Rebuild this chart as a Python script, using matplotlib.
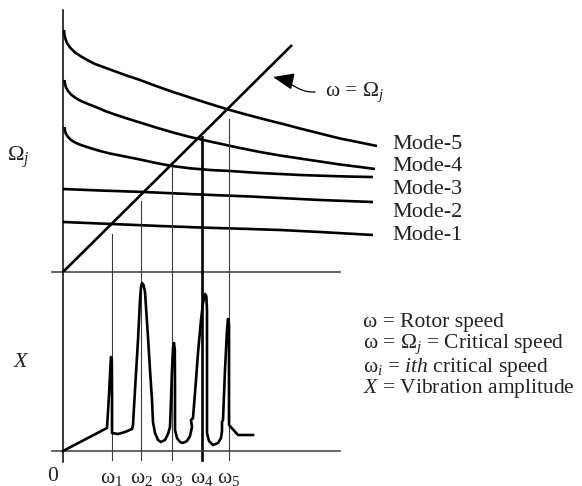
import matplotlib
matplotlib.use("Agg")
import matplotlib.pyplot as plt
from matplotlib.patches import FancyArrowPatch
from matplotlib.path import Path

plt.rcParams['font.family'] = ['Liberation Serif', 'DejaVu Serif']
plt.rcParams['mathtext.fontset'] = 'custom'
plt.rcParams['mathtext.rm'] = 'Liberation Serif'
plt.rcParams['mathtext.it'] = 'Liberation Serif:italic'

# ---------------- data (arbitrary units: omega, Omega_j, X) ----------------
diag_w = [0, 229]
diag_W = [0, 227]

mode5_w = [1, 1.5, 2.5, 4, 7, 12, 19, 27, 32, 47, 62, 77, 93, 110, 127, 144, 165,
           185, 204, 222, 237, 257, 277, 297, 314]
mode5_W = [242, 237, 233, 229, 224.5, 219.5, 215, 210.5, 208, 202.5, 197, 192, 186,
           180, 174.5, 169, 162.5, 157, 152, 147.5, 143.5, 138.5, 133.5, 129.5, 126]
mode4_w = [1.5, 2, 3, 5, 8, 12, 17, 25, 34, 42, 52, 64, 77, 93, 110, 127, 147, 177,
           197, 217, 237, 257, 277, 297, 312]
mode4_W = [192, 188, 184.5, 181, 177.5, 174.5, 171.5, 168, 164.5, 161, 157.5, 153.5,
           149.5, 144.5, 139.5, 135, 130.5, 124, 120, 116.5, 113.5, 110.5, 107.5, 105, 103]
mode3_w = [1.5, 2, 3, 5, 8, 12, 18, 27, 37, 47, 62, 77, 93, 109, 127, 147, 167, 192,
           217, 237, 267, 292, 310]
mode3_W = [145, 141, 138, 135, 132, 129.5, 127, 124, 121, 118.5, 115.5, 112.5, 109,
           106, 103.7, 102, 101, 99.3, 98, 97, 96, 95.3, 95]
mode2_w = [0, 37, 81, 137, 187, 217, 257, 310]
mode2_W = [83, 81.5, 80, 77.5, 75.5, 74, 72, 70]
mode1_w = [0, 49, 97, 137, 187, 217, 257, 310]
mode1_W = [50, 48, 46, 44.5, 43, 42, 40, 37]

mode_labels = ['Mode-5', 'Mode-4', 'Mode-3', 'Mode-2', 'Mode-1']
mode_label_W = [128, 106, 83, 60, 37]

crit_w = [49, 78, 109, 139, 166]
crit_top = [38, 71, 106, 135, 153]
crit_labels = ['ω$_1$', 'ω$_2$', 'ω$_3$', 'ω$_4$', 'ω$_5$']

resp_w = [0, 44, 46, 47.5, 48, 48.8, 49, 49, 55, 62, 69, 70, 72, 75, 77, 78, 79,
          80.5, 82, 85, 87, 89, 90, 92, 95, 98, 102, 105, 107, 108, 109, 110, 111,
          111.8, 112, 112, 112, 114, 117, 120, 124, 127, 129, 128, 130, 133, 135,
          138, 140, 142, 143.3, 144, 144, 144, 146, 150, 155, 158, 159, 159, 160,
          162, 164, 165, 166, 166, 166, 175, 190]
resp_X = [0, 23, 56, 86, 94, 89, 56, 18, 17, 19, 22, 26, 61, 111, 151, 164, 168,
          166, 159, 114, 81, 51, 29, 18, 11, 9, 11, 17, 24, 51, 81, 103, 108,
          101, 61, 26, 21, 13, 9, 8, 10, 15, 24, 31, 33, 71, 98,
          131, 148, 157, 155, 141, 81, 18, 10, 6, 8, 13, 20, 29, 31,
          81, 121, 132, 126, 71, 26, 16, 16]

legend_lines = ['ω = Rotor speed',
                'ω = Ω$_j$ = Critical speed',
                'ω$_i$ = $ith$ critical speed',
                '$X$ = Vibration amplitude']
legend_X = [129, 107, 84, 63]

# ---------------- figure ----------------
fig = plt.figure(figsize=(5.82, 4.86), dpi=100)
W, H = 582.0, 486.0
ax_top = fig.add_axes([0, (H - 272) / H, 1, 272 / H])
ax_bot = fig.add_axes([0, 0, 1, 214 / H])
for a in (ax_top, ax_bot):
    a.set_xlim(-63, 519)
    a.axis('off')
ax_top.set_ylim(0, 272)
ax_bot.set_ylim(-35, 179)

lw_c = 1.9
k = 'black'
tc = '#222222'
grey = '#3a3a3a'

# top panel
ax_top.plot([0, 0], [262, 0], color=k, lw=1.1, clip_on=False)
ax_top.plot([-11, 277], [0, 0], color=grey, lw=1.1, clip_on=False)
ax_top.plot(diag_w, diag_W, color=k, lw=lw_c, solid_capstyle='butt')
for mw, mW in [(mode5_w, mode5_W), (mode4_w, mode4_W), (mode3_w, mode3_W),
               (mode2_w, mode2_W), (mode1_w, mode1_W)]:
    ax_top.plot(mw, mW, color=k, lw=lw_c, solid_capstyle='butt',
                solid_joinstyle='round')
for i, (w, t) in enumerate(zip(crit_w, crit_top)):
    thick = (i == 3)
    ax_top.plot([w, w], [t, 0], color=k if thick else grey,
                lw=1.9 if thick else 0.8, clip_on=False)
    ax_bot.plot([w, w], [179, -9], color=k if thick else grey,
                lw=1.9 if thick else 0.8, clip_on=False)
for lab, y in zip(mode_labels, mode_label_W):
    ax_top.text(329, y, lab, fontsize=16, ha='left', va='center', color=tc)
ax_top.text(-56, 115, 'Ω$_j$', fontsize=16, ha='left', va='center', color=tc)

ax_top.text(262, 180, 'ω = Ω$_j$', fontsize=15.5, ha='left', va='center', color=tc)
arrow_path = Path([(252, 180), (235, 179), (228, 191), (210, 195)],
                  [Path.MOVETO, Path.CURVE4, Path.CURVE4, Path.CURVE4])
ax_top.add_patch(FancyArrowPatch(path=arrow_path,
                                 arrowstyle='-|>,head_length=1.0,head_width=0.4',
                                 mutation_scale=13, color=k, lw=0.9))

# bottom panel
ax_bot.plot([0, 0], [179, -11], color=k, lw=1.1, clip_on=False)
ax_bot.plot([-11, 277], [0, 0], color=grey, lw=1.1, clip_on=False)
ax_bot.plot(resp_w, resp_X, color=k, lw=lw_c, solid_joinstyle='round')
ax_bot.text(-50, 89, '$X$', fontsize=16, ha='left', va='center', color=tc)
ax_bot.text(-10, -25, '0', fontsize=15.5, ha='center', va='center', color=tc)
for w, lab in zip(crit_w, crit_labels):
    ax_bot.text(w, -27, lab, fontsize=15.5, ha='center', va='center', color=tc)
for txt, y in zip(legend_lines, legend_X):
    ax_bot.text(300, y, txt, fontsize=15.5, ha='left', va='center', color=tc)

fig.savefig('out.png', dpi=100)
